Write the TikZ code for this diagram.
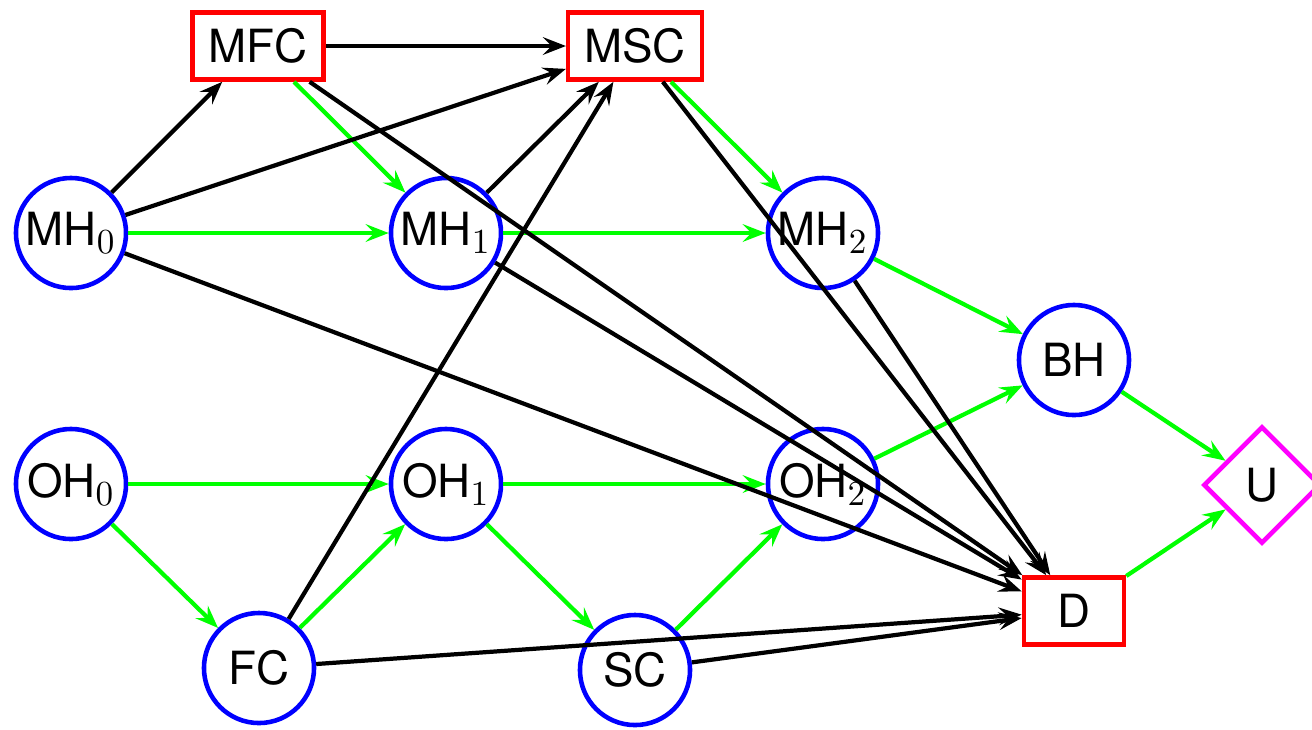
\documentclass[tikz,border=0pt]{standalone}
\usepackage{fontspec}
\setmainfont{TeX Gyre Heros}
\usetikzlibrary{arrows.meta,shapes.geometric}
\DeclareMathSizes{13}{13}{10}{7}
\definecolor{umagenta}{RGB}{255,0,255}

\begin{document}
\begin{tikzpicture}[x=0.01cm, y=-0.01cm,
        every node/.style={font=\fontsize{13}{15}\selectfont},
        chance/.style={circle, draw=blue, line width=1.3pt, minimum size=1.10cm, inner sep=0pt},
        decision/.style={rectangle, draw=red, line width=1.3pt, minimum width=1cm, minimum height=0.67cm, inner xsep=0.16cm},
        utility/.style={diamond, draw=umagenta, line width=1.3pt, minimum size=1.17cm, inner sep=0pt},
        arc/.style={-{Stealth[length=6.5pt, width=5pt, inset=2.4pt]}, line width=1.2pt},
        info/.style={arc, draw=green}]
        \useasboundingbox (0, 0) rectangle (1312, 729);
        \node [decision] (MFC) at (258, 46) {MFC}; 
        \node [decision] (MSC) at (635, 46) {MSC}; 
        \node [chance] (MH0) at (71, 233) {MH$_0$}; 
        \node [chance] (MH1) at (446, 233) {MH$_1$}; 
        \node [chance] (MH2) at (823, 233) {MH$_2$}; 
        \node [chance] (BH) at (1074, 360) {BH}; 
        \node [chance] (OH0) at (71, 484) {OH$_0$}; 
        \node [chance] (OH1) at (446, 484) {OH$_1$}; 
        \node [chance] (OH2) at (823, 484) {OH$_2$}; 
        \node [utility] (U) at (1262, 485) {U}; 
        \node [decision] (D) at (1074, 611) {D}; 
        \node [chance] (FC) at (259, 668) {FC}; 
        \node [chance] (SC) at (635, 670) {SC}; 
        % informational arcs
        \draw [info] (MFC) -- (MH1); 
        \draw [info] (MH0) -- (MH1); 
        \draw [info] (MSC) -- (MH2); 
        \draw [info] (MH1) -- (MH2); 
        \draw [info] (MH2) -- (BH); 
        \draw [info] (OH2) -- (BH); 
        \draw [info] (BH) -- (U); 
        \draw [info] (D) -- (U); 
        \draw [info] (OH0) -- (OH1); 
        \draw [info] (OH1) -- (OH2); 
        \draw [info] (OH0) -- (FC); 
        \draw [info] (FC) -- (OH1); 
        \draw [info] (OH1) -- (SC); 
        \draw [info] (SC) -- (OH2); 
        % decision arcs
        \draw [arc] (MFC) -- (MSC); 
        \draw [arc] (MH0) -- (MFC); 
        \draw [arc] (MH0) -- (MSC); 
        \draw [arc] (MH0) -- (D); 
        \draw [arc] (MFC) -- (D); 
        \draw [arc] (MH1) -- (MSC); 
        \draw [arc] (MH1) -- (D); 
        \draw [arc] (FC) -- (MSC); 
        \draw [arc] (MSC) -- (D); 
        \draw [arc] (MH2) -- (D); 
        \draw [arc] (FC) -- (D); 
        \draw [arc] (SC) -- (D); 
\end{tikzpicture}
\end{document}
